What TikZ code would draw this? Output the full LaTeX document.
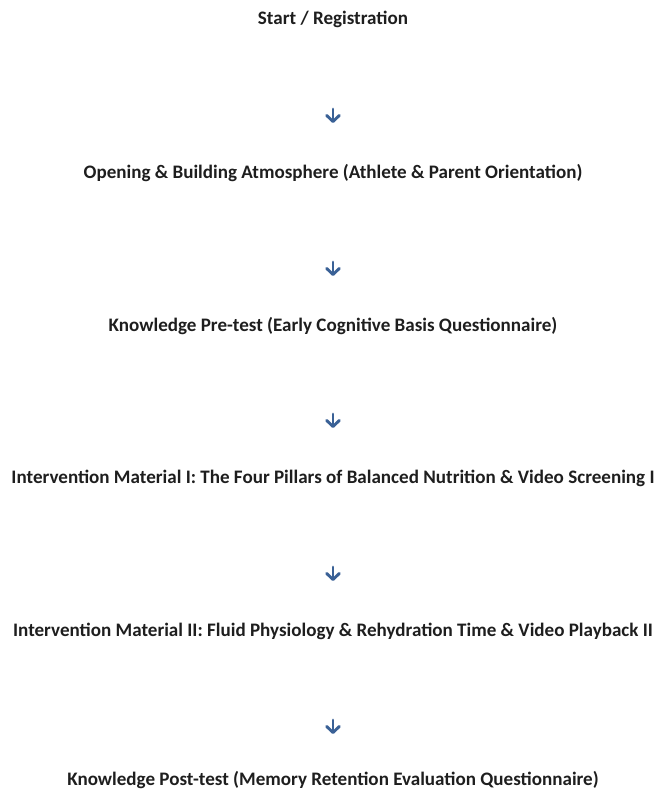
\documentclass[tikz,border=0pt]{standalone}
\usepackage{fontspec}
\setmainfont{Carlito}
\usetikzlibrary{arrows.meta}

\definecolor{arrowblue}{HTML}{3A6196}
\definecolor{textgray}{HTML}{1E1E1E}

\tikzset{
    stepbox/.style={inner sep=0pt, text=textgray, font=\bfseries\fontsize{14.3}{16}\selectfont},
    downarrow/.style={draw=arrowblue, line width=2.2pt, line cap=round,
        -{Straight Barb[length=4.6pt, width=9.5pt, line cap=round, line join=round]}}
}

\begin{document}
\begin{tikzpicture}[x=0.75pt, y=-0.75pt]
    \useasboundingbox (0,0) rectangle (657,789);

    \node[stepbox] (s1) at (333,19) {Start / Registration};
    \node[stepbox] (s2) at (333,173) {Opening \& Building Atmosphere (Athlete \& Parent Orientation)};
    \node[stepbox] (s3) at (333,326) {Knowledge Pre-test (Early Cognitive Basis Questionnaire)};
    \node[stepbox] (s4) at (333,478) {Intervention Material I: The Four Pillars of Balanced Nutrition \& Video Screening I};
    \node[stepbox] (s5) at (333,631) {Intervention Material II: Fluid Physiology \& Rehydration Time \& Video Playback II};
    \node[stepbox] (s6) at (333,780) {Knowledge Post-test (Memory Retention Evaluation Questionnaire)};

    % short arrows between the steps
    \coordinate (a1) at (333,109);  \coordinate (b1) at (333,123);
    \coordinate (a2) at (333,262);  \coordinate (b2) at (333,276);
    \coordinate (a3) at (333,414);  \coordinate (b3) at (333,428);
    \coordinate (a4) at (333,567);  \coordinate (b4) at (333,581);
    \coordinate (a5) at (333,720);  \coordinate (b5) at (333,734);

    \draw[downarrow] (a1) -- (b1);
    \draw[downarrow] (a2) -- (b2);
    \draw[downarrow] (a3) -- (b3);
    \draw[downarrow] (a4) -- (b4);
    \draw[downarrow] (a5) -- (b5);
\end{tikzpicture}
\end{document}
